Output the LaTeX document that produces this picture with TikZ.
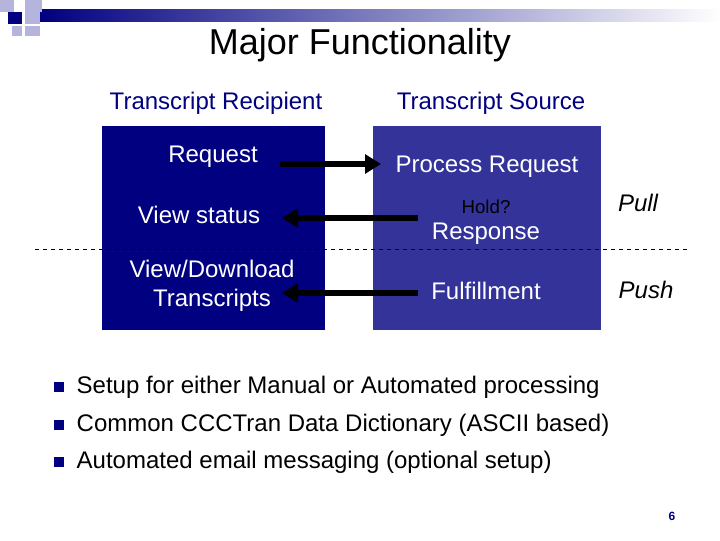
\documentclass[tikz,border=0pt]{standalone}
\usepackage{fontspec}
\setmainfont{Liberation Sans}
\usetikzlibrary{arrows.meta}
\definecolor{navy}{HTML}{000080}
\definecolor{src}{HTML}{333399}
\definecolor{lite}{HTML}{B4B4DC}
\tikzset{
  lbl/.style={font=\fontsize{18}{21}\selectfont},
  wlbl/.style={lbl,text=white},
  big/.style={-{Triangle[length=12pt,width=14pt]},line width=5pt},
  bul/.style={anchor=west,font=\fontsize{18}{21}\selectfont},
  sq/.style={fill=navy,minimum size=7pt,inner sep=0pt}
}
\begin{document}
\begin{tikzpicture}[x=0.75pt,y=-0.75pt]
\useasboundingbox (0,0) rectangle (720,540);
% decoration
\shade[left color=navy,right color=white] (40,9) rectangle (720,21);
\fill[lite] (0,0) rectangle (14,12);
\fill[lite] (25,0) rectangle (42,12);
\fill[navy] (8,12) rectangle (22,24);
\fill[lite] (25,12) rectangle (40,24);
\fill[lite] (25,26) rectangle (40,36);
\fill[lite] (12,26) rectangle (22,36);
\node[font=\fontsize{27}{30}\selectfont] (title) at (360,45) {Major Functionality};
\node[lbl,text=navy] (hr) at (216,103) {Transcript Recipient};
\node[lbl,text=navy] (hs) at (491,103) {Transcript Source};
\fill[navy] (102,126) rectangle (325,330);
\fill[src] (373,126) rectangle (601,330);
\draw[dashed,line width=0.6pt] (35,249) -- (690,249);
\node[wlbl] (req) at (213,157) {Request};
\node[wlbl] (proc) at (487,167) {Process Request};
\node[wlbl] (vs) at (199,215) {View status};
\node[font=\fontsize{14}{16}\selectfont] (hold) at (486,207) {Hold?};
\node[wlbl] (resp) at (486,234) {Response};
\node[wlbl,align=center] (vd) at (212,286) {View/Download\\[1pt]Transcripts};
\node[wlbl] (ful) at (486,291) {Fulfillment};
\node[lbl,font=\fontsize{18}{21}\selectfont\itshape] (pull) at (638,203) {Pull};
\node[lbl,font=\fontsize{18}{21}\selectfont\itshape] (push) at (646,290) {Push};
\coordinate (a1) at (280,164); \coordinate (a2) at (381,164);
\coordinate (b1) at (418,218); \coordinate (b2) at (282,218);
\coordinate (c1) at (418,293); \coordinate (c2) at (282,293);
\draw[big] (a1) -- (a2);
\draw[big] (b1) -- (b2);
\draw[big] (c1) -- (c2);
\foreach \y/\t [count=\i] in {387/Setup for either Manual or Automated processing,425/Common CCCTran Data Dictionary (ASCII based),462/Automated email messaging (optional setup)}{
  \node[sq] (s\i) at (59,\y) {};
  \node[bul] (t\i) at (72,\y) {\t};
}
\node[font=\fontsize{9}{10}\selectfont\bfseries,text=navy] (pg) at (672,516) {6};
\end{tikzpicture}
\end{document}
